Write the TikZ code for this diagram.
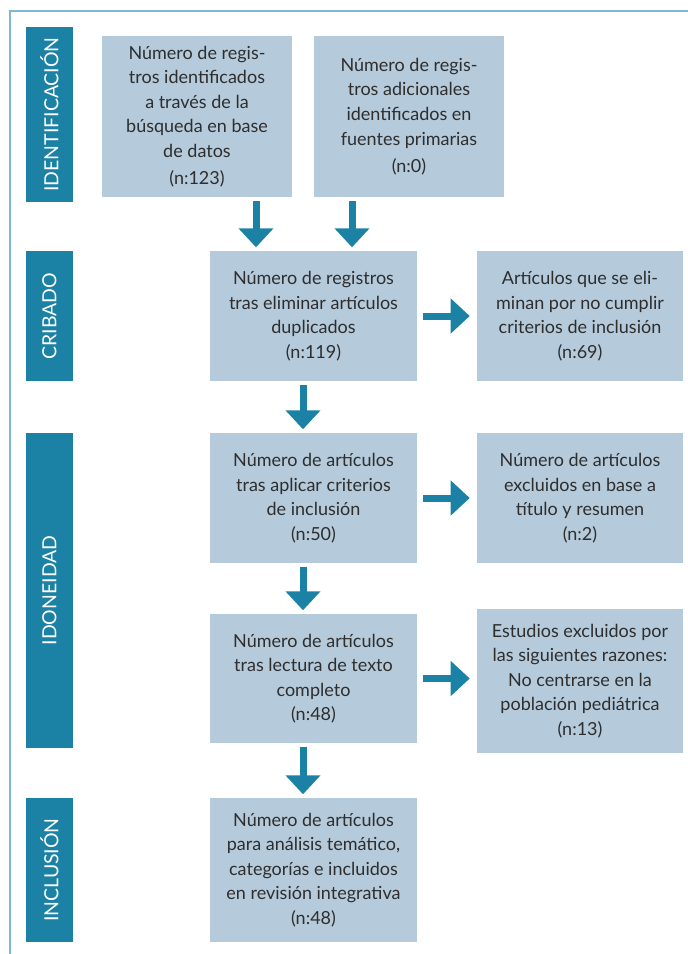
\documentclass[tikz,border=0pt]{standalone}
\usepackage{fontspec}
\setmainfont{Lato}
\usetikzlibrary{arrows.meta}
\definecolor{teal1}{HTML}{1B82A5}
\definecolor{boxfill}{HTML}{B5CADB}
\definecolor{framec}{HTML}{7DB9D2}
\definecolor{txt}{HTML}{2E2E2E}
\begin{document}
\begin{tikzpicture}[x=0.75pt,y=-0.75pt,
  box/.style={fill=boxfill, text=txt, align=center, inner sep=0pt,
    font=\fontsize{13.5}{18.4}\selectfont},
  bar/.style={fill=teal1, text=white, inner sep=0pt, rotate=90,
    minimum height=35.25pt, font=\fontsize{14.6}{16}\selectfont},
  arr/.style={draw=teal1, line width=5.25pt, shorten <=2.6pt, shorten >=2.6pt,
    -{Triangle[width=25.5pt,length=14.25pt]}},
  harr/.style={draw=teal1, line width=5.25pt, shorten <=4.5pt, shorten >=5.25pt,
    -{Triangle[width=25.5pt,length=14.25pt]}},
  ]
\useasboundingbox (0,0) rectangle (688,954);
% frame
\draw[framec, line width=1.2pt] (688,11) -- (10,11) -- (10,954);

% side bars
\node[bar, minimum width=131.25pt] (bI) at (49.5,114.5) {IDENTIFICACIÓN};
\node[bar, minimum width=97.5pt]   (bC) at (49.5,316)   {CRIBADO};
\node[bar, minimum width=236.25pt] (bD) at (49.5,590.5) {IDONEIDAD};
\node[bar, minimum width=108pt]    (bN) at (49.5,870)   {INCLUSIÓN};

% boxes
\node[box, minimum width=142.5pt, minimum height=120.75pt] (b1) at (197,116.5)
  {Número de regis-\\tros identificados\\a través de la\\búsqueda en base\\de datos\\[2pt](n:123)};
\node[box, minimum width=142.5pt, minimum height=120.75pt] (b2) at (409,116.5)
  {Número de regis-\\tros adicionales\\identificados en\\fuentes primarias\\[2pt](n:0)};
\node[box, minimum width=155.25pt, minimum height=97.5pt] (m2) at (313.5,316)
  {Número de registros\\tras eliminar artículos\\duplicados\\(n:119)};
\node[box, minimum width=154.5pt, minimum height=97.5pt] (r2) at (580,316)
  {Artículos que se eli-\\minan por no cumplir\\criterios de inclusión\\(n:69)};
\node[box, minimum width=155.25pt, minimum height=97.5pt] (m3) at (313.5,498)
  {Número de artículos\\tras aplicar criterios\\de inclusión\\(n:50)};
\node[box, minimum width=154.5pt, minimum height=97.5pt] (r3) at (580,498)
  {Número de artículos\\excluidos en base a\\título y resumen\\(n:2)};
\node[box, minimum width=155.25pt, minimum height=96.75pt] (m4) at (313.5,678.5)
  {Número de artículos\\tras lectura de texto\\completo\\(n:48)};
\node[box, minimum width=154.5pt, minimum height=108pt] (r4) at (580,681)
  {Estudios excluidos por\\las siguientes razones:\\No centrarse en la\\población pediátrica\\(n:13)};
\node[box, minimum width=155.25pt, minimum height=108pt] (m5) at (313.5,870)
  {Número de artículos\\para análisis temático,\\categorías e incluidos\\en revisión integrativa\\(n:48)};

% arrow x positions
\coordinate (xa) at (256,0);
\coordinate (xb) at (352,0);
\coordinate (xc) at (303,0);

\draw[arr] (b1.south -| xa) -- (m2.north -| xa);
\draw[arr] (b2.south -| xb) -- (m2.north -| xb);
\draw[arr] (m2.south -| xc) -- (m3.north -| xc);
\draw[arr] (m3.south -| xc) -- (m4.north -| xc);
\draw[arr] (m4.south -| xc) -- (m5.north -| xc);

\draw[harr] (m2.east) -- (r2.west);
\draw[harr] (m3.east) -- (r3.west);
\draw[harr] (m4.east) -- (m4.east -| r4.west);
\end{tikzpicture}
\end{document}
